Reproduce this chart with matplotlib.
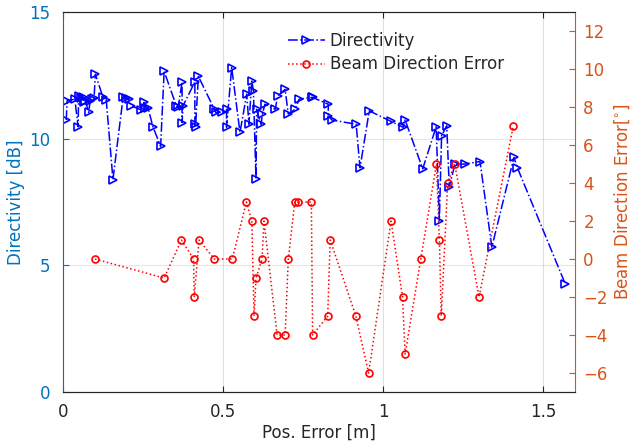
"""Directivity and beam direction error versus position error.
"""

import numpy as np
import matplotlib
matplotlib.use('Agg')
import matplotlib.pyplot as plt

# Directivity [dB] over position error [m]
pos_dir = [0.010, 0.013, 0.037, 0.047, 0.049, 0.055, 0.062, 0.066, 0.070, 0.080,
           0.085, 0.090, 0.097, 0.101, 0.125, 0.135, 0.156, 0.188, 0.198, 0.205,
           0.213, 0.243, 0.253, 0.257, 0.266, 0.281, 0.305, 0.316, 0.354, 0.360,
           0.372, 0.372, 0.375, 0.412, 0.412, 0.414, 0.423, 0.473, 0.477, 0.498,
           0.511, 0.511, 0.527, 0.553, 0.574, 0.581, 0.590, 0.595, 0.603, 0.605,
           0.619, 0.623, 0.631, 0.663, 0.671, 0.694, 0.704, 0.725, 0.738, 0.777,
           0.780, 0.829, 0.829, 0.840, 0.916, 0.928, 0.957, 1.024, 1.063, 1.069,
           1.124, 1.166, 1.176, 1.183, 1.199, 1.207, 1.225, 1.256, 1.303, 1.340,
           1.409, 1.420, 1.569]
directivity = [10.74, 11.50, 11.56, 10.47, 11.69, 11.60, 11.63, 11.45, 11.50, 11.04,
               11.50, 11.56, 11.60, 12.55, 11.63, 11.54, 8.39, 11.66, 11.60, 11.56,
               11.30, 11.14, 11.43, 11.20, 11.20, 10.47, 9.70, 12.66, 11.30, 11.25,
               12.24, 10.64, 11.30, 12.24, 10.57, 10.45, 12.46, 11.16, 11.04, 11.04,
               11.16, 10.45, 12.81, 10.25, 11.76, 10.57, 12.28, 11.89, 8.41, 11.16,
               10.57, 10.97, 11.36, 11.16, 11.69, 11.95, 10.97, 11.16, 11.56, 11.63,
               11.63, 11.36, 10.90, 10.74, 10.57, 8.85, 11.10, 10.69, 10.45, 10.74,
               8.81, 10.47, 6.77, 10.12, 10.51, 8.11, 9.00, 9.00, 9.10, 5.72,
               9.26, 8.85, 4.28]

# Beam direction error [deg] over position error [m]
pos_err = [0.100, 0.316, 0.370, 0.408, 0.410, 0.425, 0.473, 0.529, 0.573, 0.590,
           0.597, 0.603, 0.622, 0.628, 0.669, 0.694, 0.704, 0.724, 0.734, 0.776,
           0.780, 0.827, 0.835, 0.915, 0.955, 1.025, 1.061, 1.069, 1.118, 1.167,
           1.176, 1.182, 1.202, 1.224, 1.300, 1.407]
beam_err = [0, -1, 1, 0, -2, 1, 0, 0, 3, 2,
            -3, -1, 0, 2, -4, -4, 0, 3, 3, 3,
            -4, -3, 1, -3, -6, 2, -2, -5, 0, 5,
            1, -3, 4, 5, -2, 7]

c_left = (0, 0.447, 0.741)
c_right = (0.85, 0.325, 0.098)
c_ax = (0.15, 0.15, 0.15)

plt.rcParams['font.family'] = 'DejaVu Sans'
plt.rcParams['font.size'] = 12

fig = plt.figure(figsize=(6.34, 4.47), dpi=100)
ax = fig.add_axes([0.0994, 0.123, 0.8076, 0.850])
ax2 = ax.twinx()

l1, = ax.plot(pos_dir, directivity, color='b', linestyle='-.', linewidth=1.1,
              marker='>', markersize=6, markerfacecolor='none',
              markeredgewidth=1.2, label='Directivity')
l2, = ax2.plot(pos_err, beam_err, color='r', linestyle=':', linewidth=1.1,
               marker='o', markersize=5, markerfacecolor='none',
               markeredgewidth=1.2, label='Beam Direction Error')

ax.set_xlim(0, 1.6)
ax.set_ylim(0, 15)
ax2.set_ylim(-7, 13)
ax.set_xticks([0, 0.5, 1, 1.5])
ax.set_xticklabels(['0', '0.5', '1', '1.5'])
ax.set_yticks([0, 5, 10, 15])
ax2.set_yticks(np.arange(-6, 13, 2))

# grids: vertical gray, horizontal tinted with the left axis colour
for xv in [0.5, 1, 1.5]:
    ax.axvline(xv, color=c_ax, alpha=0.15, linewidth=0.8, zorder=0)
for yv in [5, 10]:
    ax.axhline(yv, color=c_left, alpha=0.15, linewidth=0.8, zorder=0)

ax.tick_params(axis='x', direction='in', top=True, colors=c_ax, length=4, pad=8)
ax.tick_params(axis='y', direction='in', colors=c_left, length=4, pad=9)
ax2.tick_params(axis='y', direction='in', colors=c_right, length=4, pad=6)

ax.spines['left'].set_color(c_left)
ax2.spines['left'].set_visible(False)
ax.spines['right'].set_visible(False)
ax2.spines['right'].set_color(c_right)
for a in (ax, ax2):
    a.spines['top'].set_color(c_ax)
    a.spines['bottom'].set_color(c_ax)

ax.set_xlabel('Pos. Error [m]', color=c_ax, labelpad=2)
ax.set_ylabel('Directivity [dB]', color=c_left, labelpad=3)
ax2.set_ylabel(r'Beam Direction Error[$^{\circ}$]', color=c_right, labelpad=3)

leg = ax2.legend(handles=[l1, l2], loc='upper left', bbox_to_anchor=(0.42, 0.975),
                 frameon=False, handlelength=2.2, handletextpad=0.3,
                 borderaxespad=0.2, labelspacing=0.35)
for t in leg.get_texts():
    t.set_color(c_ax)

fig.savefig('out.png', dpi=100)
